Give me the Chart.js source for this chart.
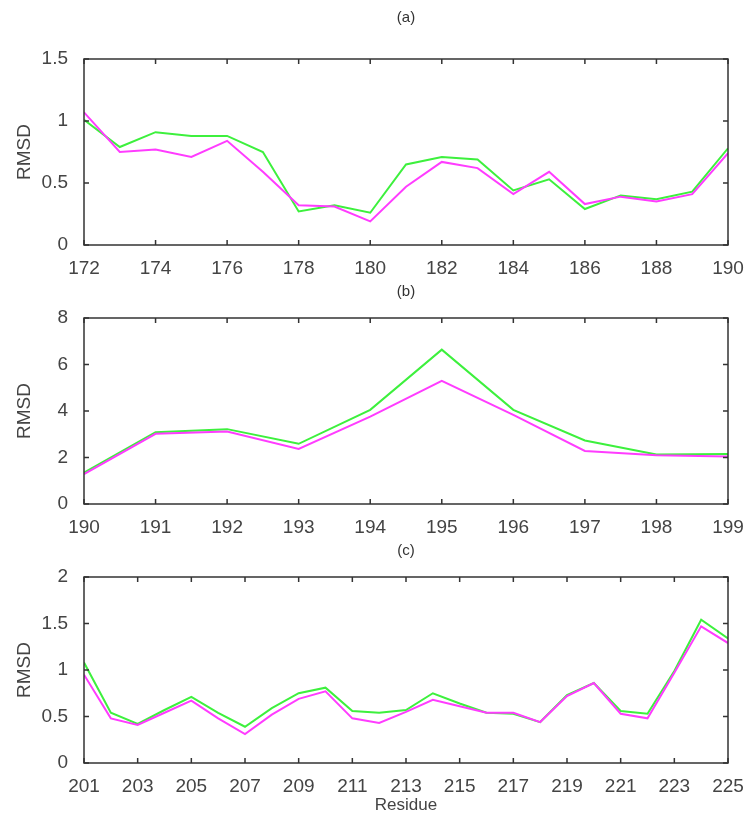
<!DOCTYPE html>
<html>
<head>
<meta charset="utf-8">
<script src="https://cdn.jsdelivr.net/npm/chart.js@4"></script>
<style>
  body { margin: 0; background: #fff; }
  .panel { position: absolute; left: 0; width: 755px; }
</style>
</head>
<body>
<div class="panel" style="top:0px;height:275px"><canvas id="chartA"></canvas></div>
<div class="panel" style="top:275px;height:265px"><canvas id="chartB"></canvas></div>
<div class="panel" style="top:540px;height:289px"><canvas id="chartC"></canvas></div>
<script>
// panel (a)
const residuesA = [172, 173, 174, 175, 176, 177, 178, 179, 180, 181, 182, 183, 184, 185, 186, 187, 188, 189, 190];
const greenA = [1.01, 0.79, 0.91, 0.88, 0.88, 0.75, 0.27, 0.32, 0.26, 0.65, 0.71, 0.69, 0.44, 0.53, 0.29, 0.40, 0.37, 0.43, 0.78];
const magentaA = [1.07, 0.75, 0.77, 0.71, 0.84, 0.59, 0.32, 0.31, 0.19, 0.47, 0.67, 0.62, 0.41, 0.59, 0.33, 0.39, 0.35, 0.41, 0.74];
const xTicksA = [172, 174, 176, 178, 180, 182, 184, 186, 188, 190];
const yTicksA = [0, 0.5, 1, 1.5];

// panel (b)
const residuesB = [190, 191, 192, 193, 194, 195, 196, 197, 198, 199];
const greenB = [1.35, 3.09, 3.22, 2.59, 4.05, 6.64, 4.05, 2.73, 2.13, 2.15];
const magentaB = [1.28, 3.02, 3.12, 2.37, 3.76, 5.30, 3.83, 2.28, 2.10, 2.04];
const xTicksB = [190, 191, 192, 193, 194, 195, 196, 197, 198, 199];
const yTicksB = [0, 2, 4, 6, 8];

// panel (c)
const residuesC = [201, 202, 203, 204, 205, 206, 207, 208, 209, 210, 211, 212, 213, 214, 215, 216, 217, 218, 219, 220, 221, 222, 223, 224, 225];
const greenC = [1.08, 0.54, 0.42, 0.57, 0.71, 0.54, 0.39, 0.59, 0.75, 0.81, 0.56, 0.54, 0.57, 0.75, 0.64, 0.54, 0.53, 0.44, 0.73, 0.86, 0.56, 0.53, 0.99, 1.54, 1.34];
const magentaC = [0.95, 0.48, 0.41, 0.54, 0.67, 0.48, 0.31, 0.52, 0.69, 0.77, 0.48, 0.43, 0.55, 0.68, 0.61, 0.54, 0.54, 0.44, 0.72, 0.86, 0.53, 0.48, 0.97, 1.47, 1.29];
const xTicksC = [201, 203, 205, 207, 209, 211, 213, 215, 217, 219, 221, 223, 225];
const yTicksC = [0, 0.5, 1, 1.5, 2];

const FONT = "'Liberation Sans', Arial, sans-serif";
const GREEN = '#3df03d';
const MAGENTA = '#ff3cff';

// box round the plot area with inward ticks on all four sides
const boxTicks = {
    id: 'boxTicks',
    afterDraw(chart) {
        const ctx = chart.ctx;
        const a = chart.chartArea;
        const x = chart.scales.x, y = chart.scales.y;
        ctx.save();
        ctx.strokeStyle = '#333';
        ctx.lineWidth = 1.5;
        ctx.strokeRect(a.left, a.top, a.right - a.left, a.bottom - a.top);
        ctx.beginPath();
        x.ticks.forEach(t => {
            const px = x.getPixelForValue(t.value);
            ctx.moveTo(px, a.bottom); ctx.lineTo(px, a.bottom - 5);
            ctx.moveTo(px, a.top); ctx.lineTo(px, a.top + 5);
        });
        y.ticks.forEach(t => {
            const py = y.getPixelForValue(t.value);
            ctx.moveTo(a.left, py); ctx.lineTo(a.left + 5, py);
            ctx.moveTo(a.right, py); ctx.lineTo(a.right - 5, py);
        });
        ctx.stroke();
        ctx.restore();
    }
};

function series(xs, ys) {
    return xs.map((v, i) => ({x: v, y: ys[i]}));
}

function makeChart(id, p) {
    return new Chart(document.getElementById(id), {
        type: 'line',
        data: {
            datasets: [
                {label: 'magenta', data: series(p.xs, p.magenta), borderColor: MAGENTA, borderWidth: 2, pointRadius: 0, tension: 0, fill: false},
                {label: 'green', data: series(p.xs, p.green), borderColor: GREEN, borderWidth: 2, pointRadius: 0, tension: 0, fill: false},
            ]
        },
        options: {
            animation: false,
            responsive: true,
            maintainAspectRatio: false,
            layout: {padding: {left: 0, right: 27, top: 0, bottom: 0}},
            plugins: {
                legend: {display: false},
                tooltip: {enabled: false},
                title: {
                    display: true,
                    text: p.title,
                    fullSize: false,
                    color: '#333',
                    font: {family: FONT, size: 15, weight: 'normal'},
                    padding: p.titlePad,
                }
            },
            scales: {
                x: {
                    type: 'linear',
                    min: p.xs[0],
                    max: p.xs[p.xs.length - 1],
                    grid: {display: false},
                    border: {display: false},
                    afterBuildTicks: s => { s.ticks = p.xTicks.map(v => ({value: v})); },
                    afterFit: s => { s.height = p.xHeight; },
                    ticks: {color: '#444', font: {family: FONT, size: 19}, padding: 4, maxRotation: 0, autoSkip: false, callback: v => String(v)},
                    title: {display: !!p.xTitle, text: p.xTitle || '', color: '#444', font: {family: FONT, size: 17}, padding: {top: 4, bottom: 13}}
                },
                y: {
                    min: p.yTicks[0],
                    max: p.yTicks[p.yTicks.length - 1],
                    grid: {display: false},
                    border: {display: false},
                    afterBuildTicks: s => { s.ticks = p.yTicks.map(v => ({value: v})); },
                    afterFit: s => { s.width = 84; },
                    ticks: {color: '#444', font: {family: FONT, size: 19}, padding: 8, callback: v => String(v)},
                    title: {display: true, text: 'RMSD', color: '#444', font: {family: FONT, size: 19}, padding: {top: 13, bottom: 0}}
                }
            }
        },
        plugins: [boxTicks]
    });
}

makeChart('chartA', {
    xs: residuesA, green: greenA, magenta: magentaA,
    xTicks: xTicksA, yTicks: yTicksA, title: '(a)',
    titlePad: {top: 9, bottom: 32}, xHeight: 30
});
makeChart('chartB', {
    xs: residuesB, green: greenB, magenta: magentaB,
    xTicks: xTicksB, yTicks: yTicksB, title: '(b)',
    titlePad: {top: 8, bottom: 17}, xHeight: 36
});
makeChart('chartC', {
    xs: residuesC, green: greenC, magenta: magentaC,
    xTicks: xTicksC, yTicks: yTicksC, title: '(c)',
    titlePad: {top: 2, bottom: 17}, xHeight: 66, xTitle: 'Residue'
});
</script>
</body>
</html>
